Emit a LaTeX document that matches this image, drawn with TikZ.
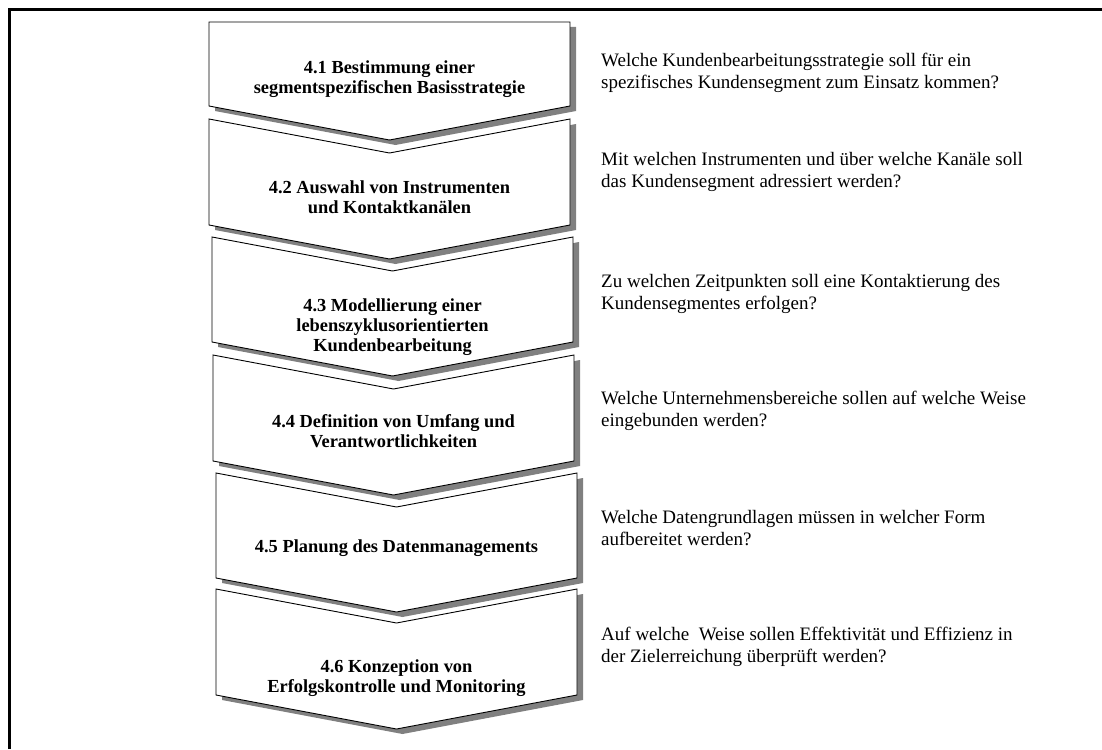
\documentclass[tikz,border=0pt]{standalone}
\usepackage{fontspec}
\setmainfont{Liberation Serif}

\begin{document}
\begin{tikzpicture}[x=1pt,y=-1pt,
  frame/.style={line width=3pt},
  stage/.style={draw=black,fill=white,line width=0.9pt,line join=miter},
  stage shadow/.style={fill=black!50,draw=none},
  stage label/.style={font=\bfseries\fontsize{18.4}{19.8}\selectfont,
    align=center,inner sep=0pt},
  question/.style={font=\fontsize{19}{21.7}\selectfont,align=left,
    anchor=north west,inner sep=0pt}]

  \useasboundingbox (0,0) rectangle (1102,749);
  \draw[frame] (9.5,749) -- (9.5,9.5) -- (1102,9.5);

  % chevrons: left, top, side height, notch depth
  \foreach \l/\t/\h/\n in {209/22/84/0, 209/119/106/34, 212/237/105/34,
      213/355/106/34, 216/473/105/34, 216/589/106/34}{
    \fill[stage shadow,shift={(6,5)}] (\l,\t) -- ++(180.5,\n) -- (\l+361,\t)
      -- ++(0,\h) -- (\l+180.5,\t+\h+34) -- (\l,\t+\h) -- cycle;
    \draw[stage] (\l,\t) -- ++(180.5,\n) -- (\l+361,\t)
      -- ++(0,\h) -- (\l+180.5,\t+\h+34) -- (\l,\t+\h) -- cycle;
  }

  \node[stage label] (s1) at (389.5,79) {4.1 Bestimmung einer\\segmentspezifischen Basisstrategie};
  \node[stage label] (s2) at (389.5,197) {4.2 Auswahl von Instrumenten\\und Kontaktkanälen};
  \node[stage label] (s3) at (392.5,327) {4.3 Modellierung einer\\lebenszyklusorientierten\\Kundenbearbeitung};
  \node[stage label] (s4) at (393.5,431) {4.4 Definition von Umfang und\\Verantwortlichkeiten};
  \node[stage label] (s5) at (396.5,548) {4.5 Planung des Datenmanagements};
  \node[stage label] (s6) at (396.5,678) {4.6 Konzeption von\\Erfolgskontrolle und Monitoring};

  \node[question] (q1) at (601,53) {Welche Kundenbearbeitungsstrategie soll für ein\\spezifisches Kundensegment zum Einsatz kommen?};
  \node[question] (q2) at (601,152) {Mit welchen Instrumenten und über welche Kanäle soll\\das Kundensegment adressiert werden?};
  \node[question] (q3) at (601,274) {Zu welchen Zeitpunkten soll eine Kontaktierung des\\Kundensegmentes erfolgen?};
  \node[question] (q4) at (601,391) {Welche Unternehmensbereiche sollen auf welche Weise\\eingebunden werden?};
  \node[question] (q5) at (601,510) {Welche Datengrundlagen müssen in welcher Form\\aufbereitet werden?};
  \node[question] (q6) at (601,627) {Auf welche~ Weise sollen Effektivität und Effizienz in\\der Zielerreichung überprüft werden?};

\end{tikzpicture}
\end{document}
